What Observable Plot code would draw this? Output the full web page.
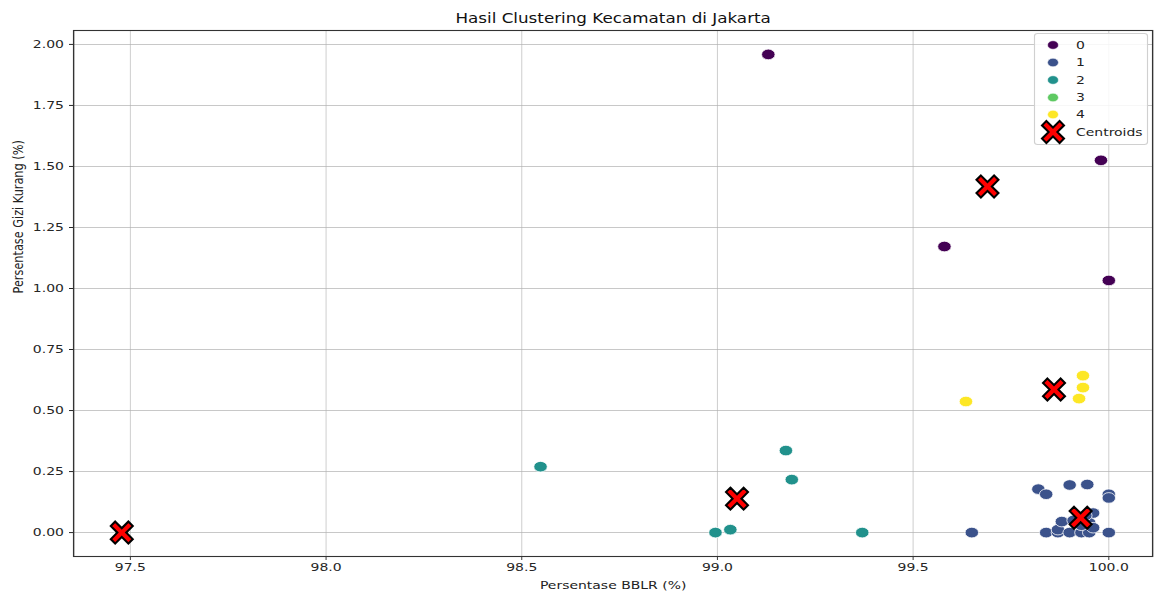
<!DOCTYPE html>
<html><head><meta charset="utf-8">
<script src="https://cdn.jsdelivr.net/npm/d3@7"></script>
<script src="https://cdn.jsdelivr.net/npm/@observablehq/plot@0.6"></script>
<style>body{margin:0;background:#fff;} #chart{position:relative;width:1154px;height:591px;overflow:hidden;}</style>
</head><body><div id="chart"></div>
<script>
// ---- data ----
const clusterLabels = ["0", "1", "2", "3", "4"];
const clusterColors = ["#440154", "#3b528b", "#21918c", "#5ec962", "#fde725"];

const bblr0 = [99.13, 99.98, 99.58, 100.0];
const gizi0 = [1.959, 1.525, 1.172, 1.033];

const bblr1 = [99.65, 99.82, 99.84, 99.90, 99.945, 100.0, 100.0, 99.84, 99.87, 99.87, 99.88, 99.90, 99.93, 99.95, 100.0, 99.96, 99.95, 99.93, 99.91, 99.94, 99.96];
const gizi1 = [0.0, 0.178, 0.157, 0.195, 0.197, 0.157, 0.142, 0.0, 0.0, 0.012, 0.045, 0.0, 0.0, 0.0, 0.0, 0.08, 0.04, 0.03, 0.05, 0.07, 0.02];

const bblr2 = [98.548, 99.175, 99.19, 98.995, 99.033, 99.37];
const gizi2 = [0.270, 0.336, 0.217, 0.0, 0.012, 0.0];

const bblr3 = [97.478];
const gizi3 = [0.0];

const bblr4 = [99.635, 99.934, 99.934, 99.924];
const gizi4 = [0.537, 0.643, 0.594, 0.549];

const centroidBblr = [99.69, 99.928, 99.05, 97.478, 99.86];
const centroidGizi = [1.418, 0.061, 0.139, 0.0, 0.586];

const xTicks = [97.5, 98.0, 98.5, 99.0, 99.5, 100.0];
const yTicks = [0, 0.25, 0.5, 0.75, 1.0, 1.25, 1.5, 1.75, 2.0];

const titleText = "Hasil Clustering Kecamatan di Jakarta";
const xLabel = "Persentase BBLR (%)";
const yLabel = "Persentase Gizi Kurang (%)";
const centroidLabel = "Centroids";

// ---- build table ----
const bblrs = [bblr0, bblr1, bblr2, bblr3, bblr4];
const gizis = [gizi0, gizi1, gizi2, gizi3, gizi4];
const points = [];
bblrs.forEach((xs, c) => xs.forEach((x, i) => points.push({cluster: clusterLabels[c], bblr: x, gizi: gizis[c][i]})));
const centroids = centroidBblr.map((x, i) => ({bblr: x, gizi: centroidGizi[i]}));

// The reference image is stretched horizontally; draw at a narrower width and stretch the SVG.
const S = 1.27;
const W = 1154 / S;

const xSymbol = {
  draw(ctx, size) {
    const h = Math.sqrt(size / Math.PI), hx = h / S, c = 0.4;
    const pts = [[-1 + c, -1], [0, -c], [1 - c, -1], [1, -1 + c], [c, 0], [1, 1 - c], [1 - c, 1], [0, c], [-1 + c, 1], [-1, 1 - c], [-c, 0], [-1, -1 + c]];
    pts.forEach(([a, b], i) => i ? ctx.lineTo(a * hx, b * h) : ctx.moveTo(a * hx, b * h));
    ctx.closePath();
  }
};

const font = "DejaVu Sans, sans-serif";
const plot = Plot.plot({
  width: W, height: 591,
  marginLeft: 73 / S, marginRight: 2 / S, marginTop: 30, marginBottom: 35,
  style: {fontFamily: font, fontSize: "11px", color: "#262626", background: "#fff"},
  x: {domain: [97.355, 100.112]},
  y: {domain: [-0.098, 2.057]},
  color: {domain: clusterLabels, range: clusterColors},
  marks: [
    Plot.gridX(xTicks, {stroke: "#b0b0b0", strokeOpacity: 0.7, strokeWidth: 1 / S}),
    Plot.gridY(yTicks, {stroke: "#b0b0b0", strokeOpacity: 0.7, strokeWidth: 1}),
    Plot.axisX(xTicks, {tickSize: 4, tickPadding: 3, tickFormat: d3.format(".1f"), label: null, fontSize: 11, strokeWidth: 1 / S}),
    Plot.axisY(yTicks, {tickSize: 4 / S, tickPadding: 4.5, tickFormat: d3.format(".2f"), label: null, fontSize: 11}),
    Plot.frame({stroke: "#333", strokeWidth: 1.1}),
    Plot.dot(points, {x: "bblr", y: "gizi", fill: "cluster", r: 5.3, stroke: "white", strokeWidth: 0.7}),
    Plot.dot(centroids, {x: "bblr", y: "gizi", symbol: xSymbol, r: 11, fill: "red", stroke: "black", strokeWidth: 1.8}),
    Plot.text([titleText], {frameAnchor: "top", lineAnchor: "middle", dy: -12, fontSize: 13.2, fill: "#111"}),
    Plot.text([xLabel], {frameAnchor: "bottom", lineAnchor: "middle", dy: 29, fontSize: 11, fill: "#222"}),
    Plot.text([yLabel], {frameAnchor: "left", lineAnchor: "middle", dx: -(73 - 18) / S, rotate: -90, fontSize: 11.3, fill: "#222"})
  ]
});

// ---- legend ----
const svg = d3.select(plot);
const lg = svg.append("g").attr("font-family", font).attr("font-size", 11).attr("text-anchor", "start");
lg.append("rect").attr("x", 1034.5 / S).attr("y", 33.5).attr("width", 113 / S).attr("height", 111).attr("rx", 2.5)
  .attr("fill", "white").attr("fill-opacity", 0.85).attr("stroke", "#d0d0d0").attr("stroke-width", 0.9);
const rowY = [45, 62.5, 80, 97.5, 114.5, 132];
const items = clusterLabels.map((l, i) => ({label: l, color: clusterColors[i]})).concat([{label: centroidLabel, centroid: true}]);
items.forEach((it, i) => {
  if (it.centroid) {
    const p = d3.path();
    xSymbol.draw(p, 11 * 11 * Math.PI);
    lg.append("path").attr("d", p.toString()).attr("transform", `translate(${1053 / S},${rowY[i]})`)
      .attr("fill", "red").attr("stroke", "black").attr("stroke-width", 1.8);
  } else {
    lg.append("circle").attr("cx", 1053 / S).attr("cy", rowY[i]).attr("r", 4.3)
      .attr("fill", it.color).attr("stroke", "white").attr("stroke-width", 0.5);
  }
  lg.append("text").attr("x", 1076 / S).attr("y", rowY[i]).attr("dy", "0.35em").attr("fill", "#222").text(it.label);
});

plot.setAttribute("preserveAspectRatio", "none");
plot.setAttribute("width", 1154);
plot.setAttribute("height", 591);
plot.style.width = "1154px";
plot.style.height = "591px";
plot.style.maxWidth = "none";
document.getElementById("chart").appendChild(plot);
</script>
</body></html>
